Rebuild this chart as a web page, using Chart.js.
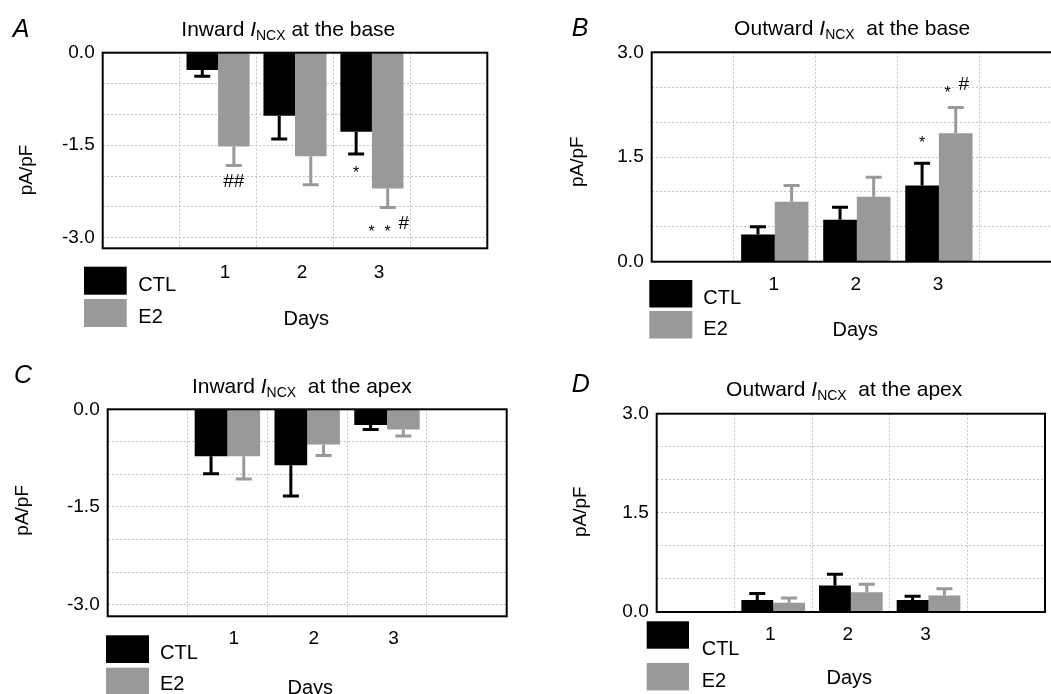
<!DOCTYPE html>
<html>
<head>
<meta charset="utf-8">
<script src="https://cdn.jsdelivr.net/npm/chart.js@4.4.1/dist/chart.umd.min.js"></script>
<style>
  html, body { margin: 0; padding: 0; background: #fff; overflow: hidden; }
  body { width: 1051px; height: 694px; position: relative; }
  canvas { position: absolute; left: 0; top: 0; }
</style>
</head>
<body>
<canvas id="cA" width="1080" height="694"></canvas>
<canvas id="cB" width="1080" height="694"></canvas>
<canvas id="cC" width="1080" height="694"></canvas>
<canvas id="cD" width="1080" height="694"></canvas>
<script>
// eje x: un hueco vacio a cada lado de los dias, como en la figura
const dayLabels = ['', '1', '2', '3', ''];
const seriesNames = ['CTL', 'E2'];
const seriesColors = ['#000000', '#999999'];

// ticks del eje y (rejilla cada 0.5, rotulo cada 1.5)
const yTicksIn = [0, -0.5, -1, -1.5, -2, -2.5, -3];
const yTicksOut = [0, 0.5, 1, 1.5, 2, 2.5, 3];
const yLabelStep = 1.5;

// A - corriente entrante en la base (pA/pF, media y error)
const baseInCtl = [-0.28, -1.02, -1.28];
const baseInCtlErr = [0.10, 0.38, 0.36];
const baseInCtlMarks = ['', '', '*'];
const baseInE2 = [-1.52, -1.68, -2.20];
const baseInE2Err = [0.31, 0.46, 0.31];
const baseInE2Marks = ['##', '', '* * #'];

// B - corriente saliente en la base
const baseOutCtl = [0.39, 0.60, 1.09];
const baseOutCtlErr = [0.11, 0.18, 0.32];
const baseOutCtlMarks = ['', '', '*'];
const baseOutE2 = [0.86, 0.93, 1.84];
const baseOutE2Err = [0.23, 0.28, 0.37];
const baseOutE2Marks = ['', '', '* #'];

// C - corriente entrante en el apex
const apexInCtl = [-0.72, -0.86, -0.24];
const apexInCtlErr = [0.27, 0.47, 0.07];
const apexInE2 = [-0.72, -0.54, -0.31];
const apexInE2Err = [0.35, 0.17, 0.10];

// D - corriente saliente en el apex
const apexOutCtl = [0.18, 0.40, 0.18];
const apexOutCtlErr = [0.10, 0.17, 0.06];
const apexOutE2 = [0.14, 0.30, 0.25];
const apexOutE2Err = [0.07, 0.12, 0.10];

const noMarks = ['', '', ''];

const FONT = '"Liberation Sans", Arial, sans-serif';
const GRID = '#c4c4c4';

function drawMark(ctx, text, cx, cy) {
  const tokens = text.split(' ');
  const step = 16;
  const x0 = cx - (tokens.length - 1) * step / 2;
  const mixed = tokens.some(t => t[0] === '#') && tokens.some(t => t[0] === '*');
  ctx.fillStyle = '#000';
  ctx.textAlign = 'center';
  ctx.textBaseline = 'middle';
  tokens.forEach((t, k) => {
    const x = x0 + k * step;
    if (t[0] === '*') {
      ctx.font = '16px ' + FONT;
      ctx.fillText(t, x, cy + 3.7 + (mixed ? 5 : 0));
    } else {
      ctx.font = '19px ' + FONT;
      ctx.fillText(t, x, cy);
    }
  });
}

const decoPlugin = {
  id: 'deco',
  afterDraw(chart, args, o) {
    const ctx = chart.ctx;
    const area = chart.chartArea;
    const ys = chart.scales.y;
    ctx.save();

    // barras de error y marcas de significacion
    chart.data.datasets.forEach((ds, i) => {
      const meta = chart.getDatasetMeta(i);
      meta.data.forEach((bar, j) => {
        const v = ds.data[j];
        if (v == null) return;
        const dir = v < 0 ? -1 : 1;
        const yEnd = ys.getPixelForValue(v + dir * ds.errors[j]);
        ctx.strokeStyle = ds.backgroundColor;
        ctx.lineWidth = 3;
        ctx.setLineDash([]);
        ctx.beginPath();
        ctx.moveTo(bar.x, bar.y);
        ctx.lineTo(bar.x, yEnd);
        ctx.moveTo(bar.x - 8, yEnd);
        ctx.lineTo(bar.x + 8, yEnd);
        ctx.stroke();
        if (ds.marks[j]) drawMark(ctx, ds.marks[j], bar.x, yEnd - dir * o.markGap);
      });
    });

    // marco
    ctx.strokeStyle = '#000';
    ctx.lineWidth = 2;
    ctx.strokeRect(area.left, area.top, area.right - area.left, area.bottom - area.top);

    ctx.fillStyle = '#000';
    // letra del panel
    ctx.font = 'italic 25px ' + FONT;
    ctx.textAlign = 'left';
    ctx.textBaseline = 'alphabetic';
    ctx.fillText(o.letter, o.letterX, o.letterY);

    // titulo con I subindice NCX
    const parts = [
      [o.title[0], '21px ' + FONT, 0],
      ['I', 'italic 21px ' + FONT, 0],
      ['NCX', '14px ' + FONT, 4.3],
      [o.title[1], '21px ' + FONT, 0]
    ];
    let total = 0;
    parts.forEach(p => { ctx.font = p[1]; p.push(ctx.measureText(p[0]).width); total += p[3]; });
    let x = o.titleX - total / 2;
    parts.forEach(p => { ctx.font = p[1]; ctx.fillText(p[0], x, o.titleY + p[2]); x += p[3]; });

    // titulo eje y
    ctx.save();
    ctx.translate(o.yTitleX, o.yTitleY);
    ctx.rotate(-Math.PI / 2);
    ctx.font = '19px ' + FONT;
    ctx.textAlign = 'center';
    ctx.textBaseline = 'middle';
    ctx.fillText('pA/pF', 0, 0);
    ctx.restore();

    // titulo eje x
    ctx.font = '20px ' + FONT;
    ctx.textAlign = 'center';
    ctx.fillText('Days', o.daysX, o.daysY);

    // leyenda
    ctx.textAlign = 'left';
    chart.data.datasets.forEach((ds, i) => {
      ctx.fillStyle = ds.backgroundColor;
      ctx.fillRect(o.legX, o.legY[i], o.legW, o.legH);
      ctx.fillStyle = '#000';
      ctx.fillText(ds.label, o.legTextX, o.legTextY[i]);
    });
    ctx.restore();
  }
};

function series(k, values, errors, marks) {
  return {
    label: seriesNames[k],
    backgroundColor: seriesColors[k],
    data: [null, ...values, null],
    errors: [null, ...errors, null],
    marks: [null, ...marks, null]
  };
}

function makeChart(p) {
  const canvas = document.getElementById(p.id);
  const W = canvas.width, H = canvas.height;
  const Y_W = 60, X_H = 40;
  return new Chart(canvas, {
    type: 'bar',
    data: {
      labels: dayLabels,
      datasets: [series(0, ...p.ctl), series(1, ...p.e2)]
    },
    options: {
      responsive: false,
      animation: false,
      layout: { padding: { left: p.plot.l - Y_W, top: p.plot.t, right: W - p.plot.r, bottom: H - p.plot.b - X_H } },
      datasets: { bar: { categoryPercentage: 0.82, barPercentage: 1, borderWidth: 0 } },
      scales: {
        x: {
          grid: { offset: true, color: GRID, lineWidth: 1, drawTicks: false },
          border: { display: false, dash: [2, 2] },
          ticks: { font: { family: FONT, size: 19 }, color: '#000', padding: p.xPad, labelOffset: p.labelOffset, maxRotation: 0, autoSkip: false },
          afterFit: s => { s.height = X_H; }
        },
        y: {
          min: p.yMin,
          max: p.yMax,
          grid: { color: GRID, lineWidth: 1, drawTicks: false },
          border: { display: false, dash: [2, 2] },
          afterBuildTicks: s => { s.ticks = p.yTicks.map(v => ({ value: v })); },
          ticks: {
            font: { family: FONT, size: 19 },
            color: '#000',
            padding: 8,
            callback: v => (Math.abs(v / yLabelStep - Math.round(v / yLabelStep)) < 1e-6 ? v.toFixed(1) : '')
          },
          afterFit: s => { s.width = Y_W; }
        }
      },
      plugins: { legend: { display: false }, tooltip: { enabled: false }, deco: p.deco }
    },
    plugins: [decoPlugin]
  });
}

const panels = [
  {
    id: 'cA', plot: { l: 102.7, t: 52.7, r: 487.3, b: 248.3 }, yMin: -3.17, yMax: 0, yTicks: yTicksIn,
    xPad: 13, labelOffset: 7,
    ctl: [baseInCtl, baseInCtlErr, baseInCtlMarks], e2: [baseInE2, baseInE2Err, baseInE2Marks],
    deco: {
      letter: 'A', letterX: 12.7, letterY: 36.7, title: ['Inward ', ' at the base'], titleX: 288.3, titleY: 35.7,
      yTitleX: 26.3, yTitleY: 170, daysX: 306.3, daysY: 325,
      legX: 84, legW: 42.7, legH: 28, legY: [266.7, 299], legTextX: 138.3, legTextY: [290.7, 322.7], markGap: 16
    }
  },
  {
    id: 'cB', plot: { l: 651.7, t: 52.3, r: 1062, b: 261.7 }, yMin: 0, yMax: 3, yTicks: yTicksOut,
    xPad: 11.4, labelOffset: -1,
    ctl: [baseOutCtl, baseOutCtlErr, baseOutCtlMarks], e2: [baseOutE2, baseOutE2Err, baseOutE2Marks],
    deco: {
      letter: 'B', letterX: 571.7, letterY: 36, title: ['Outward ', '  at the base'], titleX: 852.2, titleY: 35,
      yTitleX: 577.3, yTitleY: 161.7, daysX: 855.3, daysY: 336,
      legX: 649.3, legW: 43, legH: 27.5, legY: [280, 311], legTextX: 703.3, legTextY: [304, 335], markGap: 23
    }
  },
  {
    id: 'cC', plot: { l: 107.7, t: 409.3, r: 506.7, b: 616.3 }, yMin: -3.18, yMax: 0, yTicks: yTicksIn,
    xPad: 11.5, labelOffset: 6.5,
    ctl: [apexInCtl, apexInCtlErr, noMarks], e2: [apexInE2, apexInE2Err, noMarks],
    deco: {
      letter: 'C', letterX: 14, letterY: 383, title: ['Inward ', '  at the apex'], titleX: 301.8, titleY: 392.7,
      yTitleX: 23, yTitleY: 510.3, daysX: 310.3, daysY: 693.5,
      legX: 106, legW: 43, legH: 27.7, legY: [635.3, 667.7], legTextX: 160, legTextY: [659.3, 690.3], markGap: 15
    }
  },
  {
    id: 'cD', plot: { l: 656.7, t: 413.7, r: 1045, b: 612 }, yMin: 0, yMax: 3, yTicks: yTicksOut,
    xPad: 11.4, labelOffset: -3,
    ctl: [apexOutCtl, apexOutCtlErr, noMarks], e2: [apexOutE2, apexOutE2Err, noMarks],
    deco: {
      letter: 'D', letterX: 571.7, letterY: 392, title: ['Outward ', '  at the apex'], titleX: 844.2, titleY: 396,
      yTitleX: 580.3, yTitleY: 511.7, daysX: 849.3, daysY: 683.7,
      legX: 646.7, legW: 42.3, legH: 27.4, legY: [621.3, 663], legTextX: 701.7, legTextY: [655.3, 687], markGap: 20
    }
  }
];

window.onload = () => {
  panels.forEach(makeChart);
};
</script>
</body>
</html>
